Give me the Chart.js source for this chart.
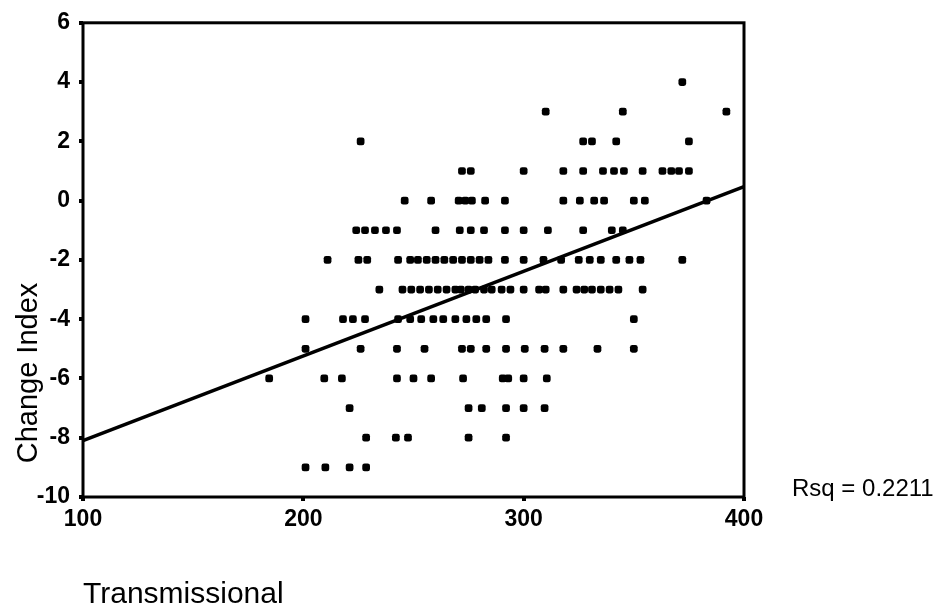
<!DOCTYPE html>
<html>
<head>
<meta charset="utf-8">
<script src="https://cdn.jsdelivr.net/npm/chart.js@4.4.1/dist/chart.umd.min.js"></script>
<style>
  html, body { margin: 0; padding: 0; background: #ffffff; }
  #wrap { width: 942px; height: 613px; }
</style>
</head>
<body>
<div id="wrap"><canvas id="chart" width="942" height="613"></canvas></div>
<script>
// ---- Data (x = Transmissional, grouped by Change Index level) ----
const changeLevels = [4, 3, 2, 1, 0, -1, -2, -3, -4, -5, -6, -7, -8, -9];
const level4  = [372];
const level3  = [310, 345, 392];
const level2  = [226, 327, 331, 342, 375];
const level1  = [272, 276, 300, 318, 327, 336, 341, 345.5, 354, 363, 367, 370.5, 375];
const level0  = [246, 258, 270.5, 273.5, 276.5, 282.5, 291.5, 318, 325.5, 332, 336.5, 350, 355, 383];
const levelM1 = [224, 228, 232.5, 237.5, 242.5, 260, 271, 276, 282, 291.5, 300, 311, 327, 340, 345];
const levelM2 = [211, 225, 229, 243, 248.5, 252, 256, 260, 264, 268, 272, 276, 280, 284, 291.5, 300, 309, 317, 325, 330, 335, 342, 348, 353, 372];
const levelM3 = [234.5, 245, 249, 253, 257, 261, 265, 269, 271.5, 275, 278, 282, 285.5, 290, 294, 300, 307, 310, 318, 324, 327.5, 331, 335, 339, 343, 354];
const levelM4 = [201, 218, 222.5, 228, 243, 248.5, 253.5, 259, 263.5, 269, 274, 278.5, 283, 292, 350];
const levelM5 = [201, 226, 242.5, 255, 272, 276, 283, 292, 300.5, 309.5, 318, 333.5, 350];
const levelM6 = [184.5, 209.5, 217.5, 242.5, 250, 258, 272.5, 290.5, 293, 300, 310.5];
const levelM7 = [221, 275, 281, 292, 300, 309.5];
const levelM8 = [228.5, 242, 247.5, 275, 292];
const levelM9 = [201, 210, 221, 228.5];
const levelRows = [level4, level3, level2, level1, level0, levelM1, levelM2, levelM3, levelM4, levelM5, levelM6, levelM7, levelM8, levelM9];

// Fitted line end points
const fitX = [100, 400];
const fitY = [-8.1, 0.47];

const xTicks = [100, 200, 300, 400];
const yTicks = [-10, -8, -6, -4, -2, 0, 2, 4, 6];
const xTitle = 'Transmissional';
const yTitle = 'Change Index';
const rsqLabel = 'Rsq = 0.2211';

// ---- Build datasets ----
const scatterPoints = [];
levelRows.forEach((row, i) => {
  row.forEach(x => scatterPoints.push({ x: x, y: changeLevels[i] }));
});
const fitPoints = fitX.map((x, i) => ({ x: x, y: fitY[i] }));

const FONT = "'Liberation Sans', Arial, Helvetica, sans-serif";

const framePlugin = {
  id: 'frame',
  beforeDatasetsDraw(chart) {
    const { ctx, chartArea: a } = chart;
    ctx.save();
    ctx.strokeStyle = '#000';
    ctx.lineWidth = 3;
    ctx.strokeRect(a.left, a.top, a.right - a.left, a.bottom - a.top);
    ctx.restore();
  },
  afterDraw(chart) {
    const { ctx } = chart;
    ctx.save();
    ctx.fillStyle = '#000';
    ctx.font = "29px " + FONT;
    ctx.textAlign = 'center';
    ctx.textBaseline = 'middle';
    ctx.translate(29, 373);
    ctx.rotate(-Math.PI / 2);
    ctx.fillText(yTitle, 0, 0);
    ctx.restore();
    ctx.save();
    ctx.fillStyle = '#000';
    ctx.font = "24px " + FONT;
    ctx.textAlign = 'left';
    ctx.textBaseline = 'middle';
    ctx.fillText(rsqLabel, 792, 489);
    ctx.restore();
  }
};

new Chart(document.getElementById('chart'), {
  type: 'scatter',
  data: {
    datasets: [
      {
        label: 'Change Index',
        data: scatterPoints,
        pointStyle: 'rectRounded',
        pointRadius: 4.5,
        backgroundColor: '#000',
        borderColor: '#000',
        borderWidth: 0,
        order: 2
      },
      {
        type: 'line',
        label: 'Fit',
        data: fitPoints,
        borderColor: '#000',
        borderWidth: 3.5,
        pointRadius: 0,
        fill: false,
        showLine: true,
        order: 1
      }
    ]
  },
  options: {
    responsive: false,
    devicePixelRatio: 1,
    animation: false,
    layout: { padding: { top: 21, right: 198, bottom: 0, left: 0 } },
    plugins: { legend: { display: false }, tooltip: { enabled: false } },
    scales: {
      x: {
        type: 'linear',
        min: 100, max: 400,
        afterBuildTicks: s => { s.ticks = xTicks.map(v => ({ value: v })); },
        afterFit: s => { s.height = 116; },
        ticks: { color: '#000', font: { family: FONT, size: 23, weight: 'bold' }, padding: 5, maxRotation: 0 },
        grid: { drawOnChartArea: false, drawTicks: true, tickLength: 4, color: '#000', lineWidth: 4 },
        border: { display: false },
        title: {
          display: true, text: xTitle, align: 'start', color: '#000',
          font: { family: FONT, size: 30 }, padding: { top: 0, bottom: 0 }
        }
      },
      y: {
        type: 'linear',
        min: -10, max: 6,
        afterBuildTicks: s => { s.ticks = yTicks.map(v => ({ value: v })); },
        afterFit: s => { s.width = 83; },
        ticks: { color: '#000', font: { family: FONT, size: 23, weight: 'bold' }, padding: 9 },
        grid: { drawOnChartArea: false, drawTicks: true, tickLength: 4, color: '#000', lineWidth: 4 },
        border: { display: false }
      }
    }
  },
  plugins: [framePlugin]
});
</script>
</body>
</html>
